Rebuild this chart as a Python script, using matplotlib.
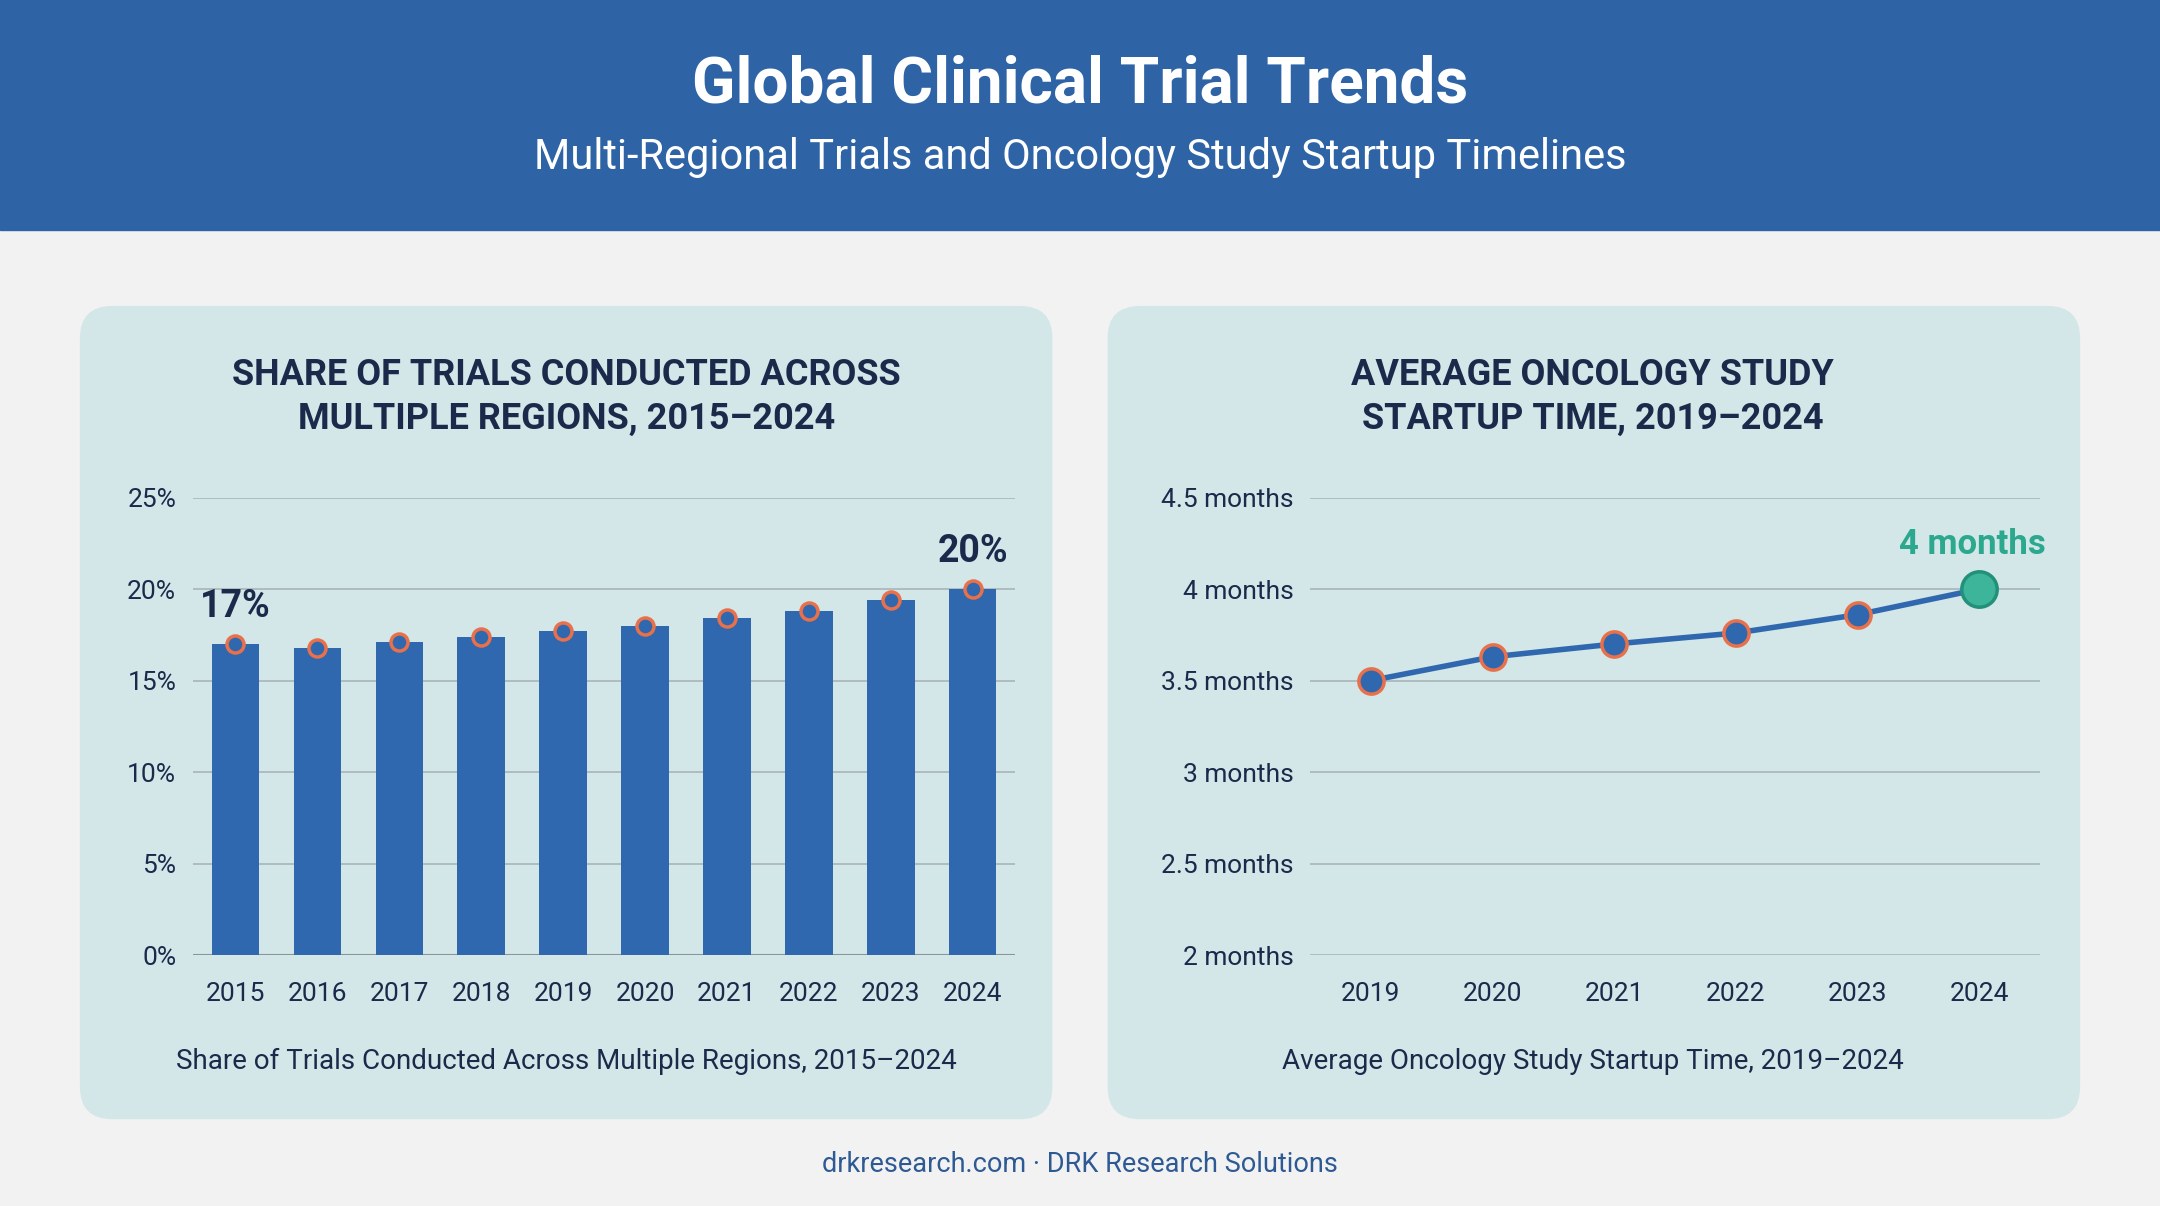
import matplotlib
matplotlib.use("Agg")
import matplotlib.pyplot as plt
from matplotlib.patches import FancyBboxPatch, Rectangle
from matplotlib.ticker import FuncFormatter

years_a = [2015, 2016, 2017, 2018, 2019, 2020, 2021, 2022, 2023, 2024]
share = [17.0, 16.8, 17.1, 17.4, 17.7, 18.0, 18.4, 18.8, 19.4, 20.0]
years_b = [2019, 2020, 2021, 2022, 2023, 2024]
months = [3.5, 3.63, 3.7, 3.76, 3.86, 4.0]

plt.rcParams['font.family'] = ['Roboto', 'DejaVu Sans']
W, H = 1568, 875
fig = plt.figure(figsize=(21.6, 12.06), dpi=100)
fig.patch.set_facecolor('#F2F2F2')
BLUE = '#2F68AE'; NAVY = '#1B2A4A'; ORANGE = '#E8704A'; PANEL = '#D3E6E8'

def fx(x): return x / W
def fy(y): return 1 - y / H

fig.add_artist(Rectangle((0, fy(167)), 1, 167 / H, transform=fig.transFigure, color='#2E63A6', zorder=0))
fig.text(0.5, fy(62), 'Global Clinical Trial Trends', ha='center', va='center', color='white', fontsize=46, fontweight='bold')
fig.text(0.5, fy(114), 'Multi-Regional Trials and Oncology Study Startup Timelines', ha='center', va='center', color='white', fontsize=30)

for x0 in (58, 804):
    fig.add_artist(FancyBboxPatch((fx(x0), fy(812)), fx(706), (812 - 222) / H, boxstyle='round,pad=0,rounding_size=0.015',
                                  transform=fig.transFigure, facecolor=PANEL, edgecolor='none', zorder=0, mutation_aspect=W / H))

fig.text(fx(411), fy(288), 'SHARE OF TRIALS CONDUCTED ACROSS\nMULTIPLE REGIONS, 2015–2024', ha='center', va='center',
         color=NAVY, fontsize=26, fontweight='bold', linespacing=1.3)
fig.text(fx(1156), fy(288), 'AVERAGE ONCOLOGY STUDY\nSTARTUP TIME, 2019–2024', ha='center', va='center',
         color=NAVY, fontsize=26, fontweight='bold', linespacing=1.3)
fig.text(fx(411), fy(770), 'Share of Trials Conducted Across Multiple Regions, 2015–2024', ha='center', va='center', color=NAVY, fontsize=20)
fig.text(fx(1156), fy(770), 'Average Oncology Study Startup Time, 2019–2024', ha='center', va='center', color=NAVY, fontsize=20)
fig.text(0.5, fy(845), 'drkresearch.com · DRK Research Solutions', ha='center', va='center', color='#2E5A94', fontsize=19.5)

def style(ax):
    ax.set_facecolor('none')
    for s in ax.spines.values(): s.set_visible(False)
    ax.grid(axis='y', color='#A8B4B8', lw=1.2)
    ax.set_axisbelow(True)
    ax.tick_params(length=0, labelsize=19, labelcolor=NAVY, pad=12)
    ax.tick_params(axis='x', pad=19)

ax1 = fig.add_axes([fx(140), fy(693), fx(737 - 140), (693 - 361) / H])
style(ax1)
xa = list(range(len(years_a)))
ax1.bar(xa, share, width=0.58, color=BLUE, zorder=2)
ax1.scatter(xa, share, s=150, color=BLUE, edgecolor=ORANGE, linewidth=2.5, zorder=3)
ax1.set_xlim(-0.52, len(xa) - 0.48); ax1.set_ylim(0, 25)
ax1.set_yticks([0, 5, 10, 15, 20, 25])
ax1.yaxis.set_major_formatter(FuncFormatter(lambda v, p: f'{v:.0f}%'))
ax1.set_xticks(xa); ax1.set_xticklabels([str(y) for y in years_a])
ax1.axhline(0, color='#8A9599', lw=1.5, zorder=1)
ax1.annotate(f'{share[0]:.0f}%', (0, share[0]), xytext=(0, 14), textcoords='offset points', ha='center', va='bottom', fontsize=27, fontweight='bold', color=NAVY)
ax1.annotate(f'{share[-1]:.0f}%', (xa[-1], share[-1]), xytext=(0, 14), textcoords='offset points', ha='center', va='bottom', fontsize=27, fontweight='bold', color=NAVY)

ax2 = fig.add_axes([fx(951), fy(693), fx(1481 - 951), (693 - 361) / H])
style(ax2)
xb = list(range(len(years_b)))
ax2.plot(xb, months, color=BLUE, lw=4, zorder=2)
ax2.scatter(xb[:-1], months[:-1], s=330, color=BLUE, edgecolor=ORANGE, linewidth=2.5, zorder=3)
ax2.scatter([xb[-1]], [months[-1]], s=650, color='#3DB59A', edgecolor='#23917A', linewidth=2.5, zorder=3)
ax2.set_xlim(-0.5, len(xb) - 0.5); ax2.set_ylim(2, 4.5)
ax2.set_yticks([2, 2.5, 3, 3.5, 4, 4.5])
ax2.yaxis.set_major_formatter(FuncFormatter(lambda v, p: f'{v:g} months'))
ax2.set_xticks(xb); ax2.set_xticklabels([str(y) for y in years_b])
ax2.annotate(f'{months[-1]:g} months', (xb[-1], months[-1]), xytext=(-5, 20), textcoords='offset points', ha='center', va='bottom',
             fontsize=25, fontweight='bold', color='#2BA88E')

fig.savefig('out.png', dpi=100, facecolor=fig.get_facecolor())
